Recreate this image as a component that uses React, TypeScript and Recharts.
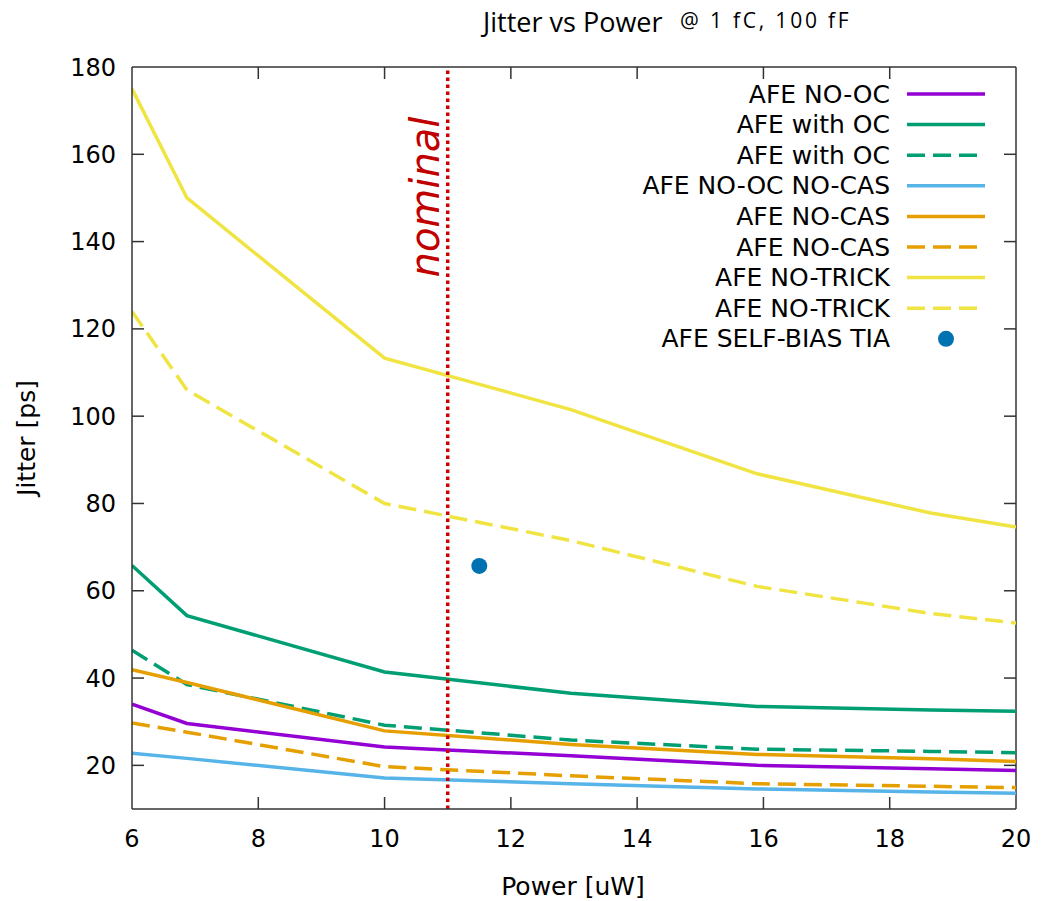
import React from "react";
import { ComposedChart, Line, Scatter, XAxis, YAxis, ReferenceLine } from "recharts";

const W = 1040;
const H = 893;
const FONT = "'DejaVu Sans', sans-serif";

// power points [uW]
const power = [6, 6.87, 10, 12.95, 15.9, 18.65, 20];
// jitter [ps]
const noOC = [34, 29.6, 24.2, 22.2, 20, 19.2, 18.8];
const withOC = [65.8, 54.3, 41.4, 36.5, 33.5, 32.7, 32.4];
const withOCd = [46.4, 38.5, 29.2, 25.8, 23.7, 23.2, 22.9];
const noOCnoCAS = [22.8, 21.6, 17.1, 15.8, 14.6, 13.9, 13.6];
const noCAS = [41.9, 39, 27.9, 24.8, 22.5, 21.5, 20.9];
const noCASd = [29.7, 27.6, 19.7, 17.6, 15.8, 15.2, 14.9];
const noTrick = [175, 150, 113.3, 101.5, 86.8, 77.8, 74.6];
const noTrickD = [124, 106, 80, 71.5, 61, 54.8, 52.6];
const selfBias = [{ x: 11.5, y: 65.7 }];

const nominal = 11;
const xTicks = [6, 8, 10, 12, 14, 16, 18, 20];
const yTicks = [20, 40, 60, 80, 100, 120, 140, 160, 180];

const DASH = "18 8";
const series = [
  { name: "AFE NO-OC", vals: noOC, color: "#9400d3", dash: undefined },
  { name: "AFE with OC", vals: withOC, color: "#009e73", dash: undefined },
  { name: "AFE with OC", vals: withOCd, color: "#009e73", dash: DASH },
  { name: "AFE NO-OC NO-CAS", vals: noOCnoCAS, color: "#56b4e9", dash: undefined },
  { name: "AFE NO-CAS", vals: noCAS, color: "#e69f00", dash: undefined },
  { name: "AFE NO-CAS", vals: noCASd, color: "#e69f00", dash: DASH },
  { name: "AFE NO-TRICK", vals: noTrick, color: "#f0e442", dash: undefined },
  { name: "AFE NO-TRICK", vals: noTrickD, color: "#f0e442", dash: DASH },
];

const BORDER = "#333";
const tickStyle = { fontSize: 24, fill: "#000", fontFamily: FONT };
const OY = 8; // overlay starts at the page top

export default function App() {
  const ticks: React.ReactElement[] = [];
  yTicks.slice(0, -1).forEach((v) => {
    ticks.push(<ReferenceLine key={"l" + v} segment={[{ x: 6, y: v }, { x: 6.19, y: v }]} stroke={BORDER} strokeWidth={1.5} ifOverflow="visible" />);
    ticks.push(<ReferenceLine key={"r" + v} segment={[{ x: 19.81, y: v }, { x: 20, y: v }]} stroke={BORDER} strokeWidth={1.5} ifOverflow="visible" />);
  });
  xTicks.slice(1, -1).forEach((v) => {
    ticks.push(<ReferenceLine key={"b" + v} segment={[{ x: v, y: 10 }, { x: v, y: 12.75 }]} stroke={BORDER} strokeWidth={1.5} ifOverflow="visible" />);
    ticks.push(<ReferenceLine key={"t" + v} segment={[{ x: v, y: 180 }, { x: v, y: 177.25 }]} stroke={BORDER} strokeWidth={1.5} ifOverflow="visible" />);
  });

  return (
    <div style={{ position: "relative", width: W, height: H, fontFamily: FONT, background: "#fff" }}>
      <ComposedChart width={W} height={H} margin={{ top: 59, right: 32, bottom: 42, left: 64 }}>
        <XAxis
          dataKey="x"
          type="number"
          domain={[6, 20]}
          ticks={xTicks}
          allowDataOverflow
          tickSize={0}
          tickMargin={21}
          tick={tickStyle}
          height={50}
          axisLine={{ stroke: BORDER, strokeWidth: 1.5 }}
        />
        <YAxis
          type="number"
          domain={[10, 180]}
          ticks={yTicks}
          allowDataOverflow
          tickSize={0}
          tickMargin={16}
          tick={tickStyle}
          width={60}
          axisLine={{ stroke: BORDER, strokeWidth: 1.5 }}
        />
        <ReferenceLine y={180} stroke={BORDER} strokeWidth={1.5} ifOverflow="visible" />
        <ReferenceLine x={20} stroke={BORDER} strokeWidth={1.5} ifOverflow="visible" />
        {ticks}
        {series.map((s, i) => (
          <Line
            key={i}
            data={power.map((x, j) => ({ x, y: s.vals[j] }))}
            dataKey="y"
            type="linear"
            stroke={s.color}
            strokeWidth={3.5}
            strokeDasharray={s.dash}
            dot={false}
            activeDot={false}
            isAnimationActive={false}
          />
        ))}
        <Scatter data={selfBias} dataKey="y" fill="#0072b2" shape={(p: any) => <circle cx={p.cx} cy={p.cy} r={8} fill="#0072b2" />} isAnimationActive={false} />
        <ReferenceLine x={nominal} stroke="#cc0000" strokeWidth={3.5} strokeDasharray="3.5 3.5" ifOverflow="visible" />
      </ComposedChart>

      <svg width={W} height={H + OY} style={{ position: "absolute", left: 0, top: -OY, pointerEvents: "none" }}>
        <g transform={`translate(0 ${OY})`}>
          <text x={475} y={24} fontFamily="'Open Sans', sans-serif" fontSize={27} fill="#000">Jitter vs Power</text>
          <text x={672} y={20} fontFamily="'Open Sans', sans-serif" fontSize={21} letterSpacing={2.8} fill="#000">@ 1 fC, 100 fF</text>
          <text x={18} y={430} transform="rotate(-90 18 430)" textAnchor="middle" dominantBaseline="central" fontSize={25} fill="#000">Jitter [ps]</text>
          <text x={565} y={878} textAnchor="middle" dominantBaseline="central" fontSize={25} fill="#000">Power [uW]</text>
          <text x={417} y={189} transform="rotate(-90 417 189)" textAnchor="middle" dominantBaseline="central" fontSize={40} fontStyle="italic" fill="#c00000">nominal</text>
          {series.map((s, i) => {
            const y = 86 + i * 30.6;
            return (
              <g key={i}>
                <text x={882} y={y} textAnchor="end" dominantBaseline="central" fontSize={25} fill="#000">{s.name}</text>
                <line x1={899} x2={977} y1={y} y2={y} stroke={s.color} strokeWidth={3.5} strokeDasharray={s.dash} />
              </g>
            );
          })}
          <text x={882} y={86 + 8 * 30.6} textAnchor="end" dominantBaseline="central" fontSize={25} fill="#000">AFE SELF-BIAS TIA</text>
          <circle cx={938} cy={86 + 8 * 30.6} r={8} fill="#0072b2" />
        </g>
      </svg>
    </div>
  );
}
